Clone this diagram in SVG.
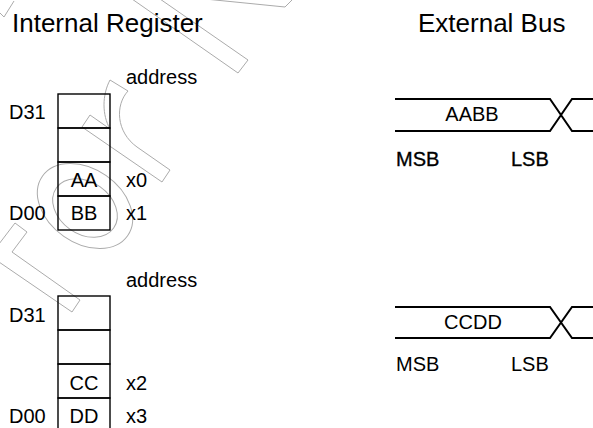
<svg xmlns="http://www.w3.org/2000/svg" width="593" height="428" viewBox="0 0 593 428">
<style>
text{font-family:"Liberation Sans",Arial,Helvetica,sans-serif;fill:#000}
.t{font-size:26px}
.l{font-size:20px}
.m{text-anchor:middle}
.b{stroke:#000;stroke-width:0.35}
.cell{fill:none;stroke:#000;stroke-width:1.4}
.bus{fill:none;stroke:#000;stroke-width:2}
.wm{fill:none;stroke:#ababab;stroke-width:1}
</style>
<rect width="593" height="428" fill="#fff"/>
<g id="watermark">
<path class="wm" d="M-1,12 L4,17 L14,1"/>
<path class="wm" d="M132,-1 L238,73 L248,60 L160,-1"/>
<path class="wm" d="M205,-1 L285,7 L293,-1"/>
<path class="wm" d="M110,129 L90,115 L82,127 L162,182 L170,170 L137,147"/>
<path class="wm" d="M110,129 C102,115 102,95 110,80 L128,91 C115,105 116,132 137,147"/>
<ellipse class="wm" cx="85" cy="206" rx="52" ry="37" transform="rotate(35 85 206)"/>
<ellipse class="wm" cx="85" cy="208" rx="35" ry="26" transform="rotate(35 85 208)"/>
<path class="wm" d="M-1,244 L15,223 L27,232 L12,252 L80,300 L72,312 L-1,262"/>
</g>
<text class="t" x="12" y="32">Internal Register</text>
<text class="t" x="418" y="32">External Bus</text>
<g id="register1">
<text class="l" x="126" y="84">address</text>
<rect class="cell" x="58" y="94" width="52" height="34"/>
<rect class="cell" x="58" y="128" width="52" height="34"/>
<rect class="cell" x="58" y="162" width="52" height="34"/>
<rect class="cell" x="58" y="196" width="52" height="34"/>
<text class="l" x="9" y="119">D31</text>
<text class="l" x="9" y="220">D00</text>
<text class="l m" x="84" y="187">AA</text>
<text class="l m" x="84" y="220">BB</text>
<text class="l" x="126" y="187">x0</text>
<text class="l" x="126" y="220">x1</text>
</g>
<g id="register2">
<text class="l" x="126" y="287">address</text>
<rect class="cell" x="58" y="296" width="52" height="34"/>
<rect class="cell" x="58" y="330" width="52" height="34"/>
<rect class="cell" x="58" y="364" width="52" height="34"/>
<rect class="cell" x="58" y="398" width="52" height="34"/>
<text class="l" x="9" y="322">D31</text>
<text class="l" x="9" y="423">D00</text>
<text class="l m" x="84" y="390">CC</text>
<text class="l m" x="84" y="423">DD</text>
<text class="l" x="126" y="390">x2</text>
<text class="l" x="126" y="423">x3</text>
</g>
<g id="connectors">
<path class="bus" d="M395,99 H550 L572,131 H594 M395,131 H550 L572,99 H594"/>
<path class="bus" d="M395,307 H550 L572,338 H594 M395,338 H550 L572,307 H594"/>
</g>
<g id="bus1">
<text class="l m" x="472" y="121">AABB</text>
<text class="l b" x="396" y="166">MSB</text>
<text class="l b" x="511" y="166">LSB</text>
</g>
<g id="bus2">
<text class="l m" x="473" y="329">CCDD</text>
<text class="l" x="396" y="371">MSB</text>
<text class="l" x="511" y="371">LSB</text>
</g>
</svg>
